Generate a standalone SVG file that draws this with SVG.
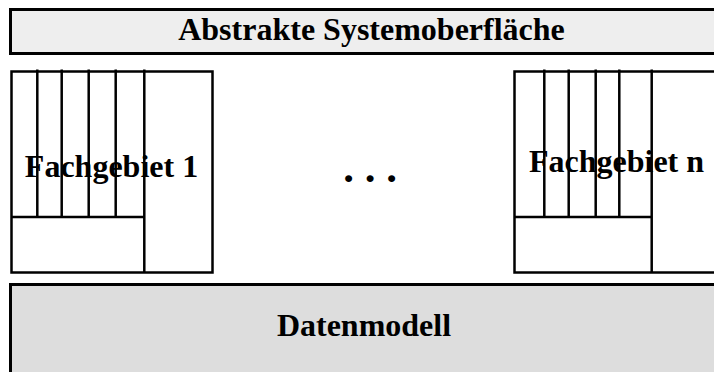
<svg xmlns="http://www.w3.org/2000/svg" width="714" height="372" viewBox="0 0 714 372">
<style>
.box{stroke:#000;stroke-width:2.5;fill:#fff}
.ln{stroke:#000;stroke-width:2.5;fill:none}
.t{font-family:"Liberation Serif","Times New Roman",serif;font-weight:bold;font-size:32px;fill:#000;text-anchor:middle}
</style>
<rect width="714" height="372" fill="#fff"/>
<g id="systemoberflaeche">
<rect x="10.5" y="9.5" width="745" height="44" style="stroke:#000;stroke-width:3;fill:#eeeeee"/>
<text class="t" x="371.5" y="40">Abstrakte Systemoberfläche</text>
</g>
<g id="fachgebiet1">
<rect class="box" x="11.5" y="71.5" width="201" height="201"/>
<path class="ln" d="M37.3 69.5V217M61.7 69.5V217M88.7 69.5V217M115.7 69.5V217M144.3 69.5V272.5M11.5 217H144.3"/>
<text class="t" x="111.5" y="177">Fachgebiet 1</text>
</g>
<g id="ellipsis">
<text class="t" x="370" y="181.5" style="font-size:43px">. . .</text>
</g>
<g id="fachgebietn">
<rect class="box" x="514.5" y="71.5" width="201" height="201"/>
<path class="ln" d="M544.3 69.5V217M568.7 69.5V217M595.7 69.5V217M619.3 69.5V217M651.7 69.5V272.5M514.5 217H651.7"/>
<text class="t" x="616.5" y="171.5">Fachgebiet n</text>
</g>
<g id="datenmodell">
<rect x="10.5" y="284.5" width="745" height="100" style="stroke:#000;stroke-width:3;fill:#dddddd"/>
<text class="t" x="364" y="336">Datenmodell</text>
</g>
<g id="connectors"></g>
</svg>
